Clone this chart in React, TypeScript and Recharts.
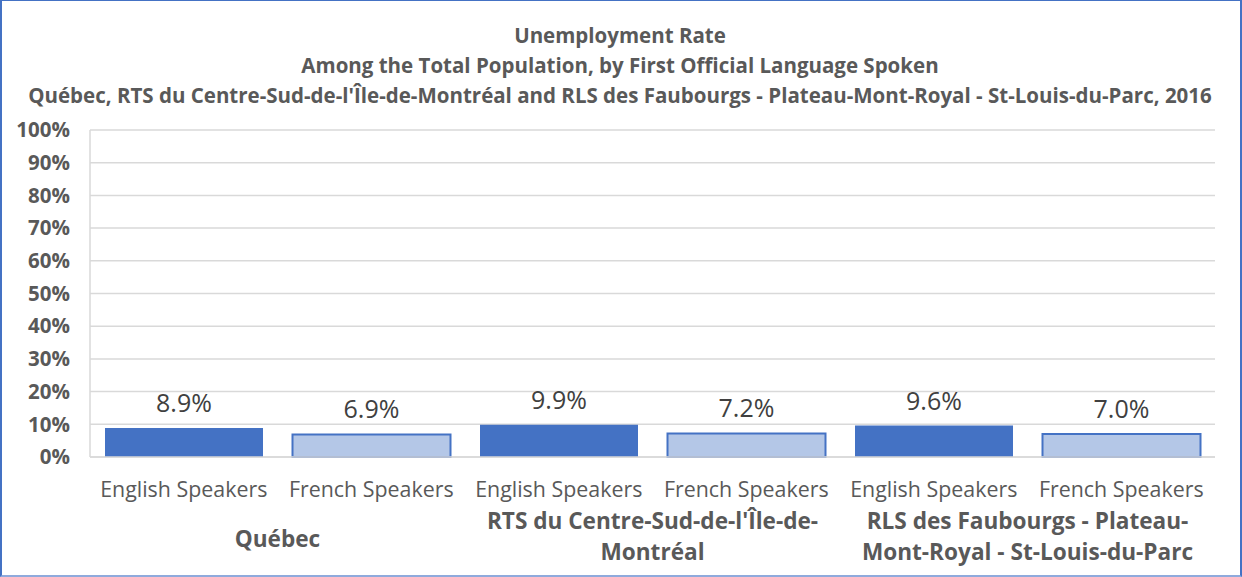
import React from "react";
import { BarChart, Bar, XAxis, YAxis, CartesianGrid, Cell, LabelList } from "recharts";

const titleLines = [
  "Unemployment Rate",
  "Among the Total Population, by First Official Language Spoken",
  "Québec, RTS du Centre-Sud-de-l'Île-de-Montréal and RLS des Faubourgs - Plateau-Mont-Royal - St-Louis-du-Parc, 2016",
];
const categories = [
  "English Speakers",
  "French Speakers",
  "English Speakers",
  "French Speakers",
  "English Speakers",
  "French Speakers",
];
const values = [8.9, 6.9, 9.9, 7.2, 9.6, 7.0];
const languages = ["English", "French", "English", "French", "English", "French"];
const groupLines = [
  ["Québec"],
  ["RTS du Centre-Sud-de-l'Île-de-", "Montréal"],
  ["RLS des Faubourgs - Plateau-", "Mont-Royal - St-Louis-du-Parc"],
];
const yTicks = [0, 10, 20, 30, 40, 50, 60, 70, 80, 90, 100];

const data = categories.map((c, i) => ({ key: i, category: c, value: values[i], lang: languages[i] }));

const FONT = "'Open Sans', sans-serif";
const GRAY = "#595959";

const CatTick = (props: any) => {
  const { x, y, payload } = props;
  return (
    <text x={x} y={y} textAnchor="middle" dominantBaseline="central" fill={GRAY} fontSize={21.4} fontFamily={FONT}>
      {categories[payload.value]}
    </text>
  );
};

const GroupTick = (props: any) => {
  const { x, y, payload, index } = props;
  const i0 = typeof index === "number" ? index : payload.index;
  if (i0 % 2 !== 1) return <g />;
  const lines = groupLines[(i0 - 1) / 2] || [];
  const cx = x - (payload.offset || 0);
  const lh = 31;
  const start = lines.length === 1 ? y + 18 : y;
  return (
    <g>
      {lines.map((l, i) => (
        <text key={i} x={cx} y={start + i * lh} textAnchor="middle" dominantBaseline="central" fill={GRAY} fontSize={22.6} fontWeight="bold" fontFamily={FONT}>
          {l}
        </text>
      ))}
    </g>
  );
};

export default function App() {
  return (
    <div style={{ position: "absolute", left: 0, top: 0, width: 1242, height: 577, background: "#fff", fontFamily: FONT }}>
      <div style={{ position: "absolute", left: 0, top: 0, width: 1238, height: 574, border: "2px solid #4472C4", borderBottomColor: "#8FAADC", borderTopWidth: 1 }} />
      {titleLines.map((t, i) => (
        <div key={i} style={{ position: "absolute", left: 0, width: 1240, top: 35 + i * 30 - 14, height: 28, lineHeight: "28px", textAlign: "center", fontWeight: "bold", fontSize: 20.5, color: GRAY, whiteSpace: "nowrap" }}>
          {t}
        </div>
      ))}
      <div style={{ position: "absolute", left: 0, top: 0 }}>
        <BarChart width={1242} height={577} data={data} margin={{ top: 130, right: 27, bottom: 0, left: 0 }} barCategoryGap="8%">
          <CartesianGrid vertical={false} stroke="#d9d9d9" strokeWidth={1.5} />
          <XAxis dataKey="key" xAxisId={0} tickLine={false} axisLine={{ stroke: "#d9d9d9", strokeWidth: 1.5 }} tick={<CatTick />} interval={0} height={60} tickSize={0} tickMargin={31} />
          <XAxis dataKey="key" xAxisId="grp" tickLine={false} axisLine={false} tick={<GroupTick />} interval={0} height={60} tickSize={0} tickMargin={3} />
          <YAxis yAxisId={0} width={90} domain={[0, 100]} ticks={yTicks} tickFormatter={(v: number) => `${v}%`} axisLine={{ stroke: "#d9d9d9", strokeWidth: 1.5 }} tickLine={false} tick={{ fill: GRAY, fontSize: 20.5, fontWeight: "bold", fontFamily: FONT }} tickMargin={14} interval={0} />
          <YAxis yAxisId="r" orientation="right" width={0} domain={[0, 100]} axisLine={{ stroke: "#d9d9d9", strokeWidth: 1.5 }} tick={false} tickLine={false} />
          <Bar dataKey="value" xAxisId={0} yAxisId={0} isAnimationActive={false}>
            {data.map((d, i) => (
              <Cell key={i} fill={d.lang === "English" ? "#4472C4" : "#B4C7E7"} stroke={d.lang === "English" ? "none" : "#4472C4"} strokeWidth={d.lang === "English" ? 0 : 2} />
            ))}
            <LabelList dataKey="value" position="top" offset={16} formatter={(v: number) => `${v.toFixed(1)}%`} fill="#404040" fontSize={25} fontFamily={FONT} />
          </Bar>
        </BarChart>
      </div>
    </div>
  );
}
